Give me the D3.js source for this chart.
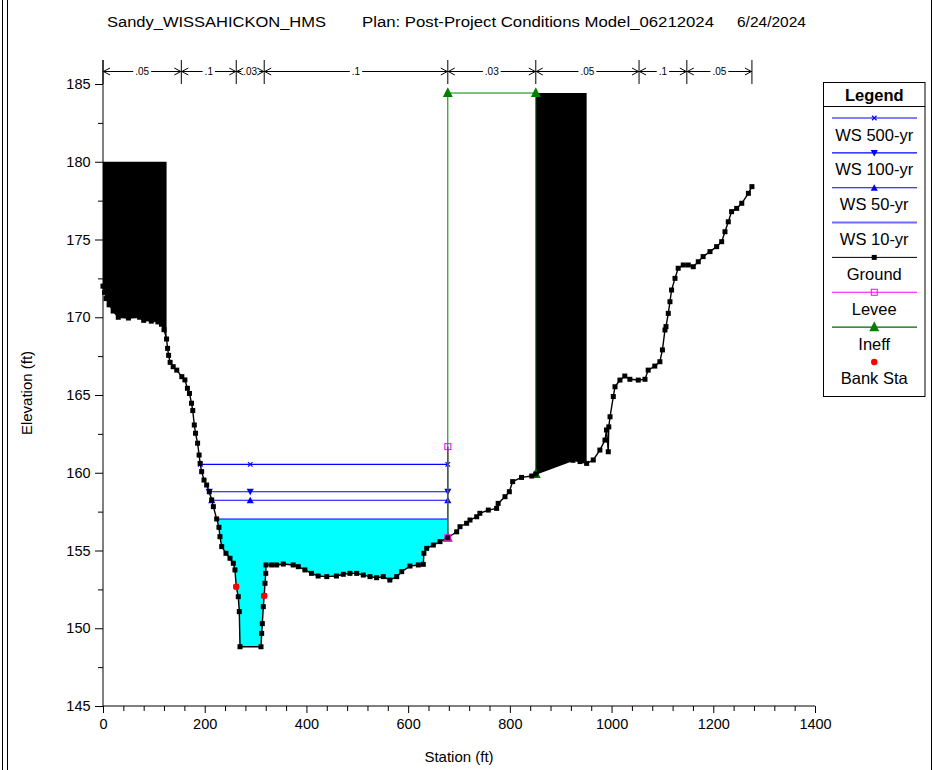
<!DOCTYPE html>
<html><head><meta charset="utf-8">
<script src="https://cdn.jsdelivr.net/npm/d3@7"></script>
<style>body{margin:0;background:#fff} svg{display:block} text{font-family:"Liberation Sans",Arial,sans-serif}</style>
</head><body><svg id="c" width="947" height="770"></svg>
<script>
// ---------------- DATA ----------------
const titleParts = ["Sandy_WISSAHICKON_HMS", "Plan: Post-Project Conditions Model_06212024", "6/24/2024"];
const xLabel = "Station (ft)";
const yLabel = "Elevation (ft)";
const xTicks = [0, 200, 400, 600, 800, 1000, 1200, 1400];
const yTicks = [145, 150, 155, 160, 165, 170, 175, 180, 185];

const groundSta = [0,3,6,12,20,30,50,72,80,95,108,115,120,125,127,129,132,138,145,155,161,166,170,174,176.5,179.5,182,186,189,191,194,198.6,203.8,209,213.7,217,223.5,228,230,233.4,241.8,249.7,256.2,259.5,262,266,268,269.4,310.7,312,313.3,315.2,317,318.5,320,320.5,331.7,341.5,354.5,374,384,397,410,423,440,459,472.5,485.6,498.8,511.8,525,538,551,564,577.5,587.3,603.6,620,629.8,631,636.5,649.5,662.6,678,695.4,702,715,721.6,734.8,741,757.6,774,777,790.4,799,805.5,823,843,851,924,938,951,964,977,987,990,993.5,994.5,997,1003.4,1006.7,1016.5,1026,1036,1052.5,1065.7,1072,1085,1095,1100,1105,1107,1111.5,1114.8,1118,1124.7,1131,1141,1150.8,1160.6,1170.5,1180,1193.5,1206.6,1216.5,1223,1229.5,1236,1246,1256,1269,1276];
const groundElev = [172.0,171.6,171.2,170.8,170.4,170.0,169.95,170.0,169.8,169.75,169.7,169.55,169.2,168.6,168.0,167.55,167.1,166.82,166.6,166.18,165.97,165.43,165.1,164.47,164.0,163.07,162.54,161.9,161.14,160.6,160.07,159.53,159.21,158.78,158.25,157.82,157.03,156.49,155.89,155.25,154.82,154.5,154.18,153.75,152.67,152.03,151.07,148.81,148.81,149.67,150.3,151.39,152.09,152.89,153.53,154.07,154.07,154.07,154.13,154.07,153.96,153.75,153.53,153.36,153.32,153.36,153.47,153.53,153.53,153.42,153.32,153.25,153.32,153.1,153.32,153.64,154.0,154.07,154.11,154.82,155.14,155.35,155.57,155.82,156.2,156.53,156.75,156.96,157.17,157.39,157.6,157.71,158.03,158.46,158.78,159.43,159.7,159.79,159.92,160.8,160.72,160.6,160.82,161.46,162.1,162.75,161.35,162.95,163.6,164.9,165.53,165.96,166.22,166.01,165.96,166.01,166.6,166.86,167.14,167.9,169.18,169.4,170.25,171.0,171.75,172.5,173.15,173.36,173.36,173.25,173.57,173.9,174.22,174.54,174.86,175.5,176.14,176.79,177.0,177.33,177.97,178.4];

const wsNames = ["WS 500-yr", "WS 100-yr", "WS 50-yr", "WS 10-yr"];
const wsElev = [160.54, 158.78, 158.23, 157.03];
const wsMarkers = ["x", "down", "up", "none"];

const bankSta = [262, 317];
const bankElev = [152.67, 152.09];

const leveeSta = [678, 678];
const leveeElev = [161.68, 155.82];

const ineffSta = [678, 851];
const ineffElev = [184.42, 184.42];

const blockLeftSta = [0, 125];
const blockLeftElev = 180;
const blockRightSta = [851, 951];
const blockRightElev = 184.42;

const nBreaks = [0, 154, 262, 317, 678, 851, 1054, 1148, 1276];
const nValues = [".05", ".1", ".03", ".1", ".03", ".05", ".1", ".05"];

const legendNames = ["WS 500-yr", "WS 100-yr", "WS 50-yr", "WS 10-yr", "Ground", "Levee", "Ineff", "Bank Sta"];

// ---------------- CHART ----------------
const svg = d3.select("#c");
const W = 947, H = 770;
const x = d3.scaleLinear().domain([0, 1400]).range([103, 815]);
const y = d3.scaleLinear().domain([145, 185]).range([706, 84]);

const ground = groundSta.map((s, i) => ({s, e: groundElev[i]}));
function groundAt(s) {
  for (let i = 0; i < ground.length - 1; i++) {
    const a = ground[i], b = ground[i + 1];
    if (s >= a.s && s <= b.s) {
      if (b.s === a.s) return a.e;
      return a.e + (b.e - a.e) * (s - a.s) / (b.s - a.s);
    }
  }
  return ground[ground.length - 1].e;
}
function leftCross(ws) {
  for (let i = 0; i < ground.length - 1; i++) {
    const a = ground[i], b = ground[i + 1];
    if (a.e >= ws && b.e < ws) return a.s + (b.s - a.s) * (a.e - ws) / (a.e - b.e);
  }
  return ground[0].s;
}

// outer frame
svg.append("line").attr("x1", 2.5).attr("x2", 2.5).attr("y1", 0).attr("y2", H).attr("stroke", "#000");
svg.append("line").attr("x1", 7.5).attr("x2", 7.5).attr("y1", 0).attr("y2", H).attr("stroke", "#000");
svg.append("line").attr("x1", 931.5).attr("x2", 931.5).attr("y1", 0).attr("y2", H).attr("stroke", "#000");

// title
const titleX = [107, 362, 737];
const titleW = [219, 352, 69];
titleParts.forEach((t, i) => {
  svg.append("text").attr("x", titleX[i]).attr("y", 27).attr("font-size", 15.5)
    .attr("textLength", titleW[i]).attr("lengthAdjust", "spacingAndGlyphs").text(t);
});

// water: cyan fill for WS 10-yr
const wsLow = wsElev[3];
const xL = leftCross(wsLow);
const xR = leveeSta[0];
const fillPts = [{s: xL, e: wsLow}];
ground.filter(p => p.s > xL && p.s < xR).forEach(p => fillPts.push({s: p.s, e: Math.min(p.e, wsLow)}));
fillPts.push({s: xR, e: groundAt(xR)});
fillPts.push({s: xR, e: wsLow});
svg.append("path")
  .attr("d", d3.line().x(p => x(p.s)).y(p => y(p.e))(fillPts) + "Z")
  .attr("fill", "#00ffff").attr("stroke", "none");

// blocked obstructions
function blockPoly(sta, top) {
  const pts = [{s: sta[0], e: top}, {s: sta[1], e: top}, {s: sta[1], e: groundAt(sta[1])}];
  ground.filter(p => p.s > sta[0] && p.s < sta[1]).reverse().forEach(p => pts.push(p));
  pts.push({s: sta[0], e: groundAt(sta[0])});
  return d3.line().x(p => x(p.s)).y(p => y(p.e))(pts) + "Z";
}
svg.append("path").attr("d", blockPoly(blockLeftSta, blockLeftElev)).attr("fill", "#000");
svg.append("path").attr("d", blockPoly(blockRightSta, blockRightElev)).attr("fill", "#000");

// markers
const chanMid = (bankSta[0] + bankSta[1]) / 2;
function marker(g, type, cx, cy, color, sz) {
  sz = sz || 4;
  if (type === "x") {
    const h = sz / 2;
    g.append("path").attr("d", `M${cx - h},${cy - h}L${cx + h},${cy + h}M${cx - h},${cy + h}L${cx + h},${cy - h}`)
      .attr("stroke", color).attr("stroke-width", 1.2);
  } else if (type === "down") {
    g.append("path").attr("d", `M${cx - sz * 0.55},${cy - sz * 0.45}L${cx + sz * 0.55},${cy - sz * 0.45}L${cx},${cy + sz * 0.55}Z`).attr("fill", color);
  } else if (type === "up") {
    g.append("path").attr("d", `M${cx - sz * 0.55},${cy + sz * 0.45}L${cx + sz * 0.55},${cy + sz * 0.45}L${cx},${cy - sz * 0.55}Z`).attr("fill", color);
  } else if (type === "square") {
    g.append("rect").attr("x", cx - sz / 2).attr("y", cy - sz / 2).attr("width", sz).attr("height", sz).attr("fill", color);
  } else if (type === "hsquare") {
    g.append("rect").attr("x", cx - sz / 2).attr("y", cy - sz / 2).attr("width", sz).attr("height", sz).attr("fill", "none").attr("stroke", color).attr("stroke-width", 1);
  } else if (type === "tri") {
    g.append("path").attr("d", `M${cx - sz * 0.55},${cy + sz * 0.45}L${cx + sz * 0.55},${cy + sz * 0.45}L${cx},${cy - sz * 0.65}Z`).attr("fill", color);
  } else if (type === "dot") {
    g.append("circle").attr("cx", cx).attr("cy", cy).attr("r", sz / 2).attr("fill", color);
  }
}
// water surface lines
const gWS = svg.append("g");
wsElev.forEach((ws, i) => {
  const a = leftCross(ws), b = leveeSta[0];
  gWS.append("line").attr("x1", x(a)).attr("x2", x(b)).attr("y1", y(ws)).attr("y2", y(ws))
    .attr("stroke", "#0000ff").attr("stroke-width", 1.1);
  if (wsMarkers[i] !== "none") {
    [a, chanMid, b].forEach(s => marker(gWS, wsMarkers[i], x(s), y(ws), "#0000ff", wsMarkers[i] === "x" ? 4.5 : 6.5));
  }
});

// ineffective flow
const gI = svg.append("g");
gI.append("path").attr("d", d3.line().x(p => x(p.s)).y(p => y(p.e))([
  {s: ineffSta[0], e: groundAt(ineffSta[0])}, {s: ineffSta[0], e: ineffElev[0]},
  {s: ineffSta[1], e: ineffElev[1]}, {s: ineffSta[1], e: groundAt(ineffSta[1])}]))
  .attr("fill", "none").attr("stroke", "#008000").attr("stroke-width", 1);
gI.append("line").attr("x1", x(leveeSta[0])).attr("x2", x(leveeSta[1]))
  .attr("y1", y(leveeElev[0])).attr("y2", y(leveeElev[1])).attr("stroke", "#555").attr("stroke-width", 1.6);

// ground
svg.append("path").attr("d", d3.line().x(p => x(p.s)).y(p => y(p.e))(ground))
  .attr("fill", "none").attr("stroke", "#000").attr("stroke-width", 1.4);
const gG = svg.append("g");
ground.forEach(p => marker(gG, "square", x(p.s), y(p.e), "#000", 5));

[[ineffSta[0], ineffElev[0]], [ineffSta[1], ineffElev[1]], [ineffSta[0], groundAt(ineffSta[0])], [ineffSta[1], groundAt(ineffSta[1])]]
  .forEach(d => marker(gI, "tri", x(d[0]), y(d[1]), "#008000", 9));
leveeSta.forEach((s, i) => marker(svg, "hsquare", x(s), y(leveeElev[i]), "#ff00ff", 6));
bankSta.forEach((s, i) => marker(svg, "dot", x(s), y(bankElev[i]), "#ff0000", 6.5));

// axes
const gY = svg.append("g").attr("transform", `translate(${x(0)},0)`);
gY.call(d3.axisLeft(y).tickValues(yTicks).tickSize(8).tickSizeOuter(0).tickFormat(d3.format("d")));
gY.select(".domain").remove();
gY.selectAll("text").attr("font-size", 14.5).attr("font-family", "Liberation Sans, Arial, sans-serif").attr("fill", "#000").attr("dx", "-0.1em");
const gYm = svg.append("g").attr("transform", `translate(${x(0)},0)`);
gYm.call(d3.axisLeft(y).tickValues(d3.range(147.5, 185, 5)).tickSize(5).tickFormat(""));
gYm.select(".domain").remove();
svg.append("line").attr("x1", x(0)).attr("x2", x(0)).attr("y1", 60).attr("y2", y(145)).attr("stroke", "#000");

const gX = svg.append("g").attr("transform", `translate(0,${y(145)})`);
gX.call(d3.axisBottom(x).tickValues(xTicks).tickSize(7).tickSizeOuter(0).tickFormat(d3.format("d")));
gX.select(".domain").remove();
gX.selectAll("text").attr("font-size", 14.5).attr("font-family", "Liberation Sans, Arial, sans-serif").attr("fill", "#000").attr("dy", "0.9em");
const gXm = svg.append("g").attr("transform", `translate(0,${y(145)})`);
gXm.call(d3.axisBottom(x).tickValues(d3.range(40, 1400, 40).filter(v => v % 200 !== 0)).tickSize(5).tickFormat(""));
gXm.select(".domain").remove();
svg.append("line").attr("x1", x(0)).attr("x2", x(1400)).attr("y1", y(145)).attr("y2", y(145)).attr("stroke", "#000");

svg.append("text").attr("x", 459).attr("y", 762).attr("text-anchor", "middle").attr("font-size", 15).text(xLabel);
svg.append("text").attr("transform", "translate(32,393) rotate(-90)").attr("text-anchor", "middle").attr("font-size", 15).text(yLabel);

// n-values bracket
const by = 71.5;
const gN = svg.append("g").attr("stroke", "#000").attr("stroke-width", 1);
nBreaks.forEach(b => gN.append("line").attr("x1", x(b)).attr("x2", x(b)).attr("y1", 60).attr("y2", 84));
nValues.forEach((v, i) => {
  const x0 = x(nBreaks[i]), x1 = x(nBreaks[i + 1]), cx = (x0 + x1) / 2;
  const t = svg.append("text").attr("x", cx).attr("y", by + 3.5).attr("text-anchor", "middle").attr("font-size", 10).text(v);
  const w = t.node().getComputedTextLength();
  const l1 = cx - w / 2 - 2, r1 = cx + w / 2 + 2;
  if (l1 > x0 + 1) gN.append("line").attr("x1", x0).attr("x2", l1).attr("y1", by).attr("y2", by);
  if (r1 < x1 - 1) gN.append("line").attr("x1", r1).attr("x2", x1).attr("y1", by).attr("y2", by);
  gN.append("path").attr("fill", "none").attr("d", `M${x0 + 7},${by - 3.5}L${x0 + 0.5},${by}L${x0 + 7},${by + 3.5}`);
  gN.append("path").attr("fill", "none").attr("d", `M${x1 - 7},${by - 3.5}L${x1 - 0.5},${by}L${x1 - 7},${by + 3.5}`);
});

// legend
const lg = svg.append("g");
const lx0 = 823.5, lx1 = 925, ly0 = 82.5, ly1 = 396.5, lcx = (lx0 + lx1) / 2;
lg.append("rect").attr("x", lx0).attr("y", ly0).attr("width", lx1 - lx0).attr("height", ly1 - ly0).attr("fill", "#fff").attr("stroke", "#000");
lg.append("text").attr("x", lcx).attr("y", 101).attr("text-anchor", "middle").attr("font-size", 16.5).attr("font-weight", "bold").text("Legend");
lg.append("line").attr("x1", lx0).attr("x2", lx1).attr("y1", 106.5).attr("y2", 106.5).attr("stroke", "#000");
const legStyle = [
  {c: "#0000ff", m: "x", mc: "#0000ff", w: 1.1, s: 4.5},
  {c: "#0000ff", m: "down", mc: "#0000ff", w: 1.1, s: 6.5},
  {c: "#0000ff", m: "up", mc: "#0000ff", w: 1.1, s: 6.5},
  {c: "#6b6bff", m: "none", w: 2},
  {c: "#000", m: "square", mc: "#000", w: 1, s: 5},
  {c: "#ff00ff", m: "hsquare", mc: "#ff00ff", w: 1.2, s: 6},
  {c: "#006400", m: "tri", mc: "#008000", w: 1.2, s: 9},
  {c: null, m: "dot", mc: "#ff0000", s: 6.5}
];
legendNames.forEach((n, i) => {
  const ly = 118 + i * 34.85;
  const st = legStyle[i];
  if (st.c) lg.append("line").attr("x1", 832).attr("x2", 917).attr("y1", ly).attr("y2", ly).attr("stroke", st.c).attr("stroke-width", st.w);
  if (st.m !== "none") marker(lg, st.m, lcx, ly, st.mc, st.s);
  lg.append("text").attr("x", lcx).attr("y", ly + 22.5).attr("text-anchor", "middle").attr("font-size", 16.5).text(n);
});
</script></body></html>
